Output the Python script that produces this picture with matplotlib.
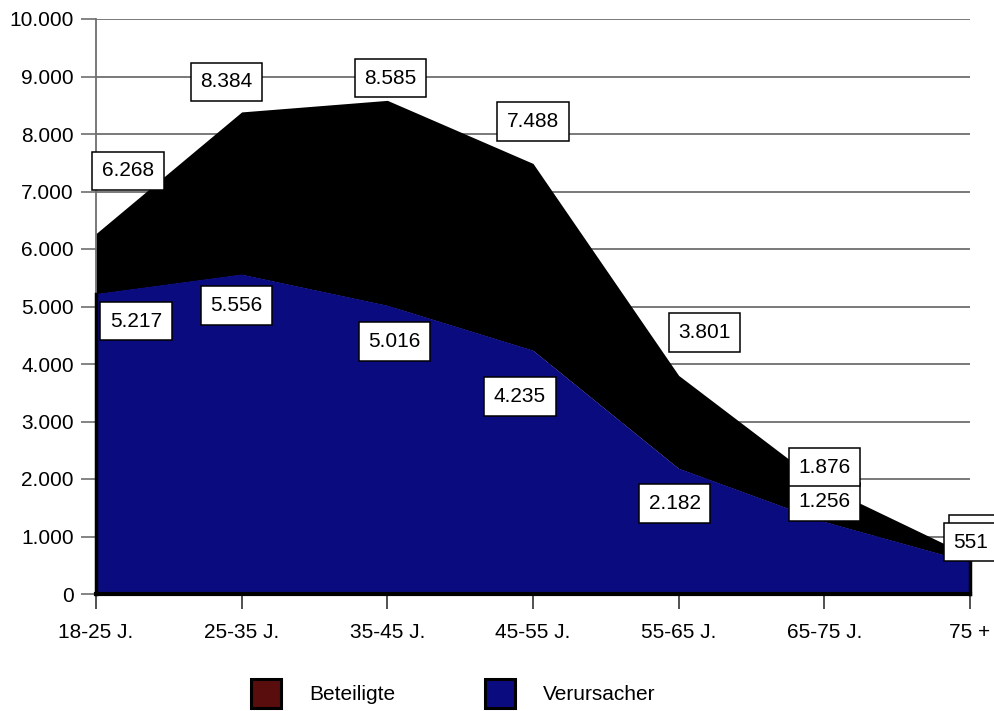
import matplotlib
matplotlib.use('Agg')
import matplotlib.pyplot as plt
from matplotlib.patches import Patch
from matplotlib.ticker import FuncFormatter

plt.rcParams['font.family'] = ['Liberation Sans', 'DejaVu Sans']

# data
age_groups = ['18-25 J.', '25-35 J.', '35-45 J.', '45-55 J.', '55-65 J.', '65-75 J.', '75 +']
beteiligte = [6268, 8384, 8585, 7488, 3801, 1876, 660]
verursacher = [5217, 5556, 5016, 4235, 2182, 1256, 551]

# label offsets in pixels (dx, dy), placed by hand like in the original
off_bet = [(32, 63), (-15, 30), (3, 22), (0, 42), (26, 43), (0, 19), (6, 22)]
off_ver = [(40, -27), (-5, -31), (7, -36), (-13, -46), (-4, -35), (0, 20), (1, 20)]

navy = '#0b0b80'
maroon = '#5a0d0d'
fs = 15


def de_fmt(v, pos=None):
    return '{:,.0f}'.format(v).replace(',', '.')


fig = plt.figure(figsize=(9.95, 7.11), dpi=100)
ax = fig.add_axes([96 / 995, 1 - 594 / 711, (970 - 96) / 995, (594 - 19) / 711])

x = list(range(len(age_groups)))

ax.fill_between(x, verursacher, beteiligte, color='black', lw=0, zorder=2)
ax.fill_between(x, 0, verursacher, facecolor=navy, edgecolor='none', zorder=3)
ax.plot([0, 0], [0, verursacher[0]], color='black', lw=2.5, zorder=4, clip_on=False)
ax.plot([x[-1], x[-1]], [0, verursacher[-1]], color='black', lw=2.5, zorder=4, clip_on=False)
ax.axhline(0, color='black', lw=3, zorder=4, clip_on=False)

ax.set_xlim(0, len(age_groups) - 1)
ax.set_ylim(0, 10000)
ax.set_yticks(range(0, 10001, 1000))
ax.yaxis.set_major_formatter(FuncFormatter(de_fmt))
ax.set_xticks(x)
ax.set_xticklabels(age_groups)
ax.yaxis.grid(True, color='#6e6e6e', lw=1.3, zorder=1)
ax.set_axisbelow(True)

for s in ['top', 'right', 'bottom']:
    ax.spines[s].set_visible(False)
ax.spines['left'].set_color('#6e6e6e')
ax.spines['left'].set_linewidth(1.3)

ax.tick_params(axis='y', length=11, width=1.2, color='#6e6e6e', pad=5, labelsize=fs)
ax.tick_params(axis='x', length=11, width=1.2, color='#333333', pad=10, labelsize=fs)

box = dict(boxstyle='square,pad=0.46', fc='white', ec='black', lw=1.1)
for i, v in enumerate(beteiligte):
    ax.annotate(de_fmt(v), (x[i], v), xytext=off_bet[i], textcoords='offset pixels',
                ha='center', va='center', fontsize=fs, bbox=box,
                zorder=5 + (0 if i == len(x) - 1 else 2), annotation_clip=False)
for i, v in enumerate(verursacher):
    ax.annotate(de_fmt(v), (x[i], v), xytext=off_ver[i], textcoords='offset pixels',
                ha='center', va='center', fontsize=fs, bbox=box,
                zorder=6, annotation_clip=False)

handles = [Patch(facecolor=maroon, edgecolor='black', lw=2.2, label='Beteiligte'),
           Patch(facecolor=navy, edgecolor='black', lw=2.2, label='Verursacher')]
fig.legend(handles=handles, loc='upper left', bbox_to_anchor=(251 / 995, 1 - 679 / 711),
           ncol=2, frameon=False, fontsize=fs, handlelength=1.45, handleheight=1.75,
           handletextpad=1.35, columnspacing=4.3, borderpad=0, borderaxespad=0)

fig.savefig('out.png', dpi=100)
